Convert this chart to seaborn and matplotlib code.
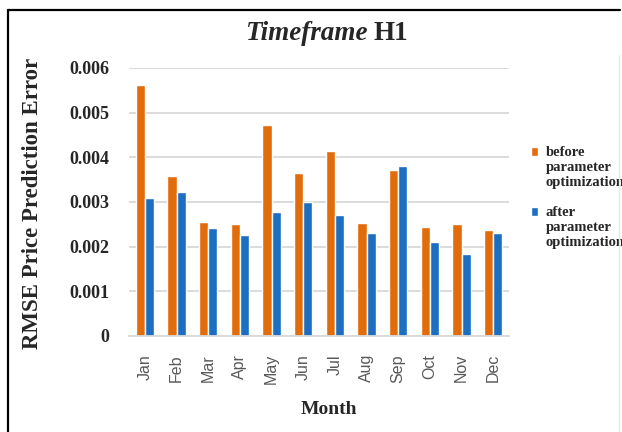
import matplotlib
matplotlib.use("Agg")
import matplotlib.pyplot as plt
import seaborn as sns
import pandas as pd
from matplotlib.lines import Line2D

months = ['Jan', 'Feb', 'Mar', 'Apr', 'May', 'Jun', 'Jul', 'Aug', 'Sep', 'Oct', 'Nov', 'Dec']
before = [0.00563, 0.00359, 0.00255, 0.00250, 0.00473, 0.00366, 0.00415, 0.00252, 0.00372, 0.00243, 0.00250, 0.00237]
after = [0.00310, 0.00322, 0.00241, 0.00226, 0.00277, 0.00299, 0.00272, 0.00231, 0.00381, 0.00211, 0.00184, 0.00230]
series = ['before\nparameter\noptimization', 'after\nparameter\noptimization']
yticks = [0, 0.001, 0.002, 0.003, 0.004, 0.005, 0.006]
ytick_labels = ['0', '0.001', '0.002', '0.003', '0.004', '0.005', '0.006']

df = pd.DataFrame({
    'Month': months * 2,
    'RMSE': before + after,
    'series': [series[0]] * len(months) + [series[1]] * len(months),
})

sns.set_style('white')
plt.rcParams['font.family'] = ['Liberation Serif', 'DejaVu Serif']

fig = plt.figure(figsize=(6.22, 4.32), dpi=100)
ax = fig.add_axes([129 / 622, 96 / 432, 380 / 622, 268 / 432])

sns.barplot(data=df, x='Month', y='RMSE', hue='series', ax=ax,
            palette=['#E36C0A', '#1C6EC3'], width=0.57, gap=0, saturation=1)

ax.set_ylim(0, 0.006)
ax.set_yticks(yticks)
ax.set_yticklabels(ytick_labels, fontsize=13, fontweight='bold')
ax.set_xticks(range(len(months)))
ax.set_xticklabels(months, rotation=90, fontsize=11.5, color='#595959',
                   family='Liberation Sans')
ax.tick_params(axis='y', length=0, pad=14)
ax.tick_params(axis='x', length=0, pad=13)
ax.yaxis.grid(True, color='#D9D9D9', linewidth=1.3)
ax.set_axisbelow(True)
for s in ['top', 'right', 'left']:
    ax.spines[s].set_visible(False)
ax.spines['bottom'].set_color('#D9D9D9')
ax.spines['bottom'].set_linewidth(1.3)
ax.set_xlabel('')
ax.set_ylabel('')

fig.text(329 / 622, 1 - 410 / 432, 'Month', ha='center', va='center',
         fontsize=14, fontweight='bold')
fig.text(33 / 622, 1 - 203 / 432, 'RMSE Price Prediction Error', rotation=90,
         ha='center', va='center', fontsize=16.5, fontweight='bold')
fig.text(368 / 622, 1 - 34 / 432, 'Timeframe', ha='right', va='center',
         fontsize=19.5, fontweight='bold', style='italic')
fig.text(373 / 622, 1 - 34 / 432, 'H1', ha='left', va='center',
         fontsize=19.5, fontweight='bold')

leg = ax.legend(loc='upper left', bbox_to_anchor=(531 / 622, 1 - 146 / 432),
                bbox_transform=fig.transFigure, frameon=False,
                prop={'size': 10.5, 'weight': 'bold'}, handlelength=0.5,
                handleheight=0.5, handletextpad=0.5, labelspacing=1.15,
                borderaxespad=0, borderpad=0)
# put the colour squares next to the first text line, as in the reference
for h in leg.legend_handles:
    h.set_y(h.get_y() + 11.3)

# outer frame
fig.add_artist(Line2D([8 / 622, 8 / 622], [0, 1 - 10 / 432], color='black', lw=1.6,
                      transform=fig.transFigure))
fig.add_artist(Line2D([8 / 622, 620 / 622], [1 - 10 / 432, 1 - 10 / 432], color='black',
                      lw=1.6, transform=fig.transFigure))
fig.add_artist(Line2D([619 / 622, 619 / 622], [0, 1 - 55 / 432], color='#E6E6E6', lw=1,
                      transform=fig.transFigure))

fig.savefig('out.png', dpi=100)
